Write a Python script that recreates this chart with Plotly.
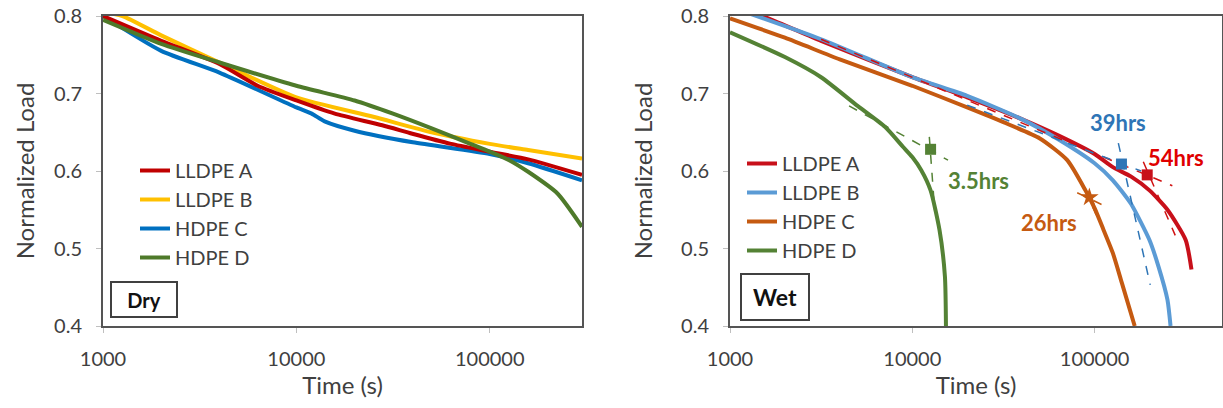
import math
import plotly.graph_objects as go

# ---------------- data ----------------
series_names = ["LLDPE A", "LLDPE B", "HDPE C", "HDPE D"]

# Dry panel
dry_A_t = [1000, 2000, 4000, 6300, 10000, 15800, 27800, 39800, 63000, 100000, 158000, 300000]
dry_A_v = [0.800, 0.768, 0.738, 0.710, 0.691, 0.674, 0.659, 0.648, 0.635, 0.625, 0.615, 0.595]
dry_B_t = [1000, 1260, 2000, 4000, 10000, 25000, 50000, 100000, 158000, 300000]
dry_B_v = [0.805, 0.800, 0.775, 0.740, 0.695, 0.670, 0.650, 0.635, 0.627, 0.616]
dry_C_t = [1000, 2000, 4000, 10000, 12000, 14000, 20000, 40000, 100000, 158000, 300000]
dry_C_v = [0.800, 0.755, 0.727, 0.682, 0.674, 0.664, 0.652, 0.637, 0.622, 0.610, 0.588]
dry_D_t = [1000, 2000, 4000, 10000, 20000, 31600, 50100, 79400, 100000, 126000, 158000, 224000, 300000]
dry_D_v = [0.795, 0.764, 0.740, 0.710, 0.691, 0.674, 0.655, 0.635, 0.625, 0.614, 0.599, 0.571, 0.528]

# Wet panel
wet_A_t = [1000, 1580, 3160, 10000, 20000, 39800, 63100, 100000, 126000, 158000, 200000, 251000, 316000, 340000]
wet_A_v = [0.815, 0.798, 0.768, 0.721, 0.695, 0.667, 0.646, 0.622, 0.605, 0.593, 0.575, 0.550, 0.511, 0.473]
wet_B_t = [1000, 3160, 10000, 20000, 39800, 63100, 100000, 126000, 158000, 200000, 224000, 251000, 261000]
wet_B_v = [0.812, 0.770, 0.721, 0.697, 0.667, 0.641, 0.610, 0.588, 0.558, 0.511, 0.477, 0.434, 0.400]
wet_C_t = [1000, 2000, 4000, 10000, 20000, 31600, 50100, 70800, 89100, 100000, 112000, 126000, 141000, 166000]
wet_C_v = [0.797, 0.772, 0.744, 0.710, 0.682, 0.663, 0.642, 0.614, 0.575, 0.552, 0.524, 0.494, 0.456, 0.400]
wet_D_t = [1000, 2000, 3160, 5010, 7080, 8910, 10000, 11200, 12600, 14100, 15100, 15300]
wet_D_v = [0.779, 0.747, 0.721, 0.684, 0.657, 0.631, 0.618, 0.601, 0.575, 0.524, 0.464, 0.400]

# failure points (wet) and tangent construction lines
fail_labels = ["54hrs", "39hrs", "26hrs", "3.5hrs"]
fail_t = [194400, 140400, 93600, 12600]
fail_v = [0.595, 0.609, 0.566, 0.628]
tan1_t = [[3160, 267000], [20000, 180000], [80300, 111000], [4500, 15700]]
tan1_v = [[0.770, 0.581], [0.685, 0.600], [0.572, 0.556], [0.684, 0.614]]
tan2_t = [[185000, 277000], [135000, 202000], [88700, 105000], [12400, 13300]]
tan2_v = [[0.612, 0.517], [0.636, 0.453], [0.575, 0.537], [0.644, 0.546]]
label_t = [281000, 135000, 56400, 23000]
label_v = [0.618, 0.663, 0.533, 0.588]

x_ticks = [1000, 10000, 100000]
y_ticks = [0.4, 0.5, 0.6, 0.7, 0.8]

# ---------------- style ----------------
dry_colors = ["#C00000", "#FFC000", "#0070C0", "#4E7A2A"]
wet_colors = ["#C8101A", "#5B9BD5", "#C55A11", "#548235"]
label_colors = ["#E00000", "#2E75B6", "#C55A11", "#548235"]
fail_symbols = ["square", "square", "star", "square"]
FONT = "Lato, Carlito, 'Open Sans', sans-serif"
TXT = "#404040"
W, H = 1223, 408

fig = go.Figure()

dry = [(dry_A_t, dry_A_v), (dry_B_t, dry_B_v), (dry_C_t, dry_C_v), (dry_D_t, dry_D_v)]
wet = [(wet_A_t, wet_A_v), (wet_B_t, wet_B_v), (wet_C_t, wet_C_v), (wet_D_t, wet_D_v)]

draw_order_dry = [2, 1, 0, 3]
for i in draw_order_dry:
    t, v = dry[i]
    fig.add_trace(go.Scatter(x=t, y=v, mode="lines", name=series_names[i],
                             line=dict(color=dry_colors[i], width=4, shape="spline", smoothing=0.6),
                             xaxis="x", yaxis="y", legend="legend", legendrank=i + 1))

for i in range(4):
    t, v = wet[i]
    fig.add_trace(go.Scatter(x=t, y=v, mode="lines", name=series_names[i],
                             line=dict(color=wet_colors[i], width=4, shape="spline", smoothing=0.6),
                             xaxis="x2", yaxis="y2", legend="legend2", legendrank=i + 1))

for i in range(4):
    for tt, vv in ((tan1_t[i], tan1_v[i]), (tan2_t[i], tan2_v[i])):
        fig.add_trace(go.Scatter(x=tt, y=vv, mode="lines", showlegend=False,
                                 line=dict(color=label_colors[i] if i != 0 else "#D01010", width=1.5, dash="dash"),
                                 xaxis="x2", yaxis="y2"))
    fig.add_trace(go.Scatter(x=[fail_t[i]], y=[fail_v[i]], mode="markers", showlegend=False,
                             marker=dict(color=wet_colors[i] if i != 1 else "#2E75B6",
                                         symbol=fail_symbols[i], size=11 if i != 2 else 14),
                             xaxis="x2", yaxis="y2"))
    fig.add_annotation(x=math.log10(label_t[i]), y=label_v[i], xref="x2", yref="y2",
                       text="<b>%s</b>" % fail_labels[i], showarrow=False,
                       font=dict(family=FONT, size=22, color=label_colors[i]))

def xaxis(dom):
    return dict(type="log", range=None, domain=dom, tickvals=x_ticks,
                ticktext=[str(v) for v in x_ticks], showgrid=False, zeroline=False,
                showline=True, linecolor="#555555", linewidth=2, mirror=True,
                ticks="outside", ticklen=5, tickcolor="#BFBFBF", tickwidth=1,
                ticklabelstandoff=9, automargin=False,
                tickfont=dict(family=FONT, size=20, color=TXT),
                title=dict(text="Time (s)", font=dict(family=FONT, size=24, color=TXT), standoff=6))

def yaxis(dom, anchor, standoff):
    return dict(range=[0.4, 0.8], domain=dom, anchor=anchor, tickvals=y_ticks,
                ticktext=["0.4", "0.5", "0.6", "0.7", "0.8"], showgrid=False, zeroline=False,
                showline=True, linecolor="#555555", linewidth=2, mirror=True,
                ticks="outside", ticklen=5, tickcolor="#BFBFBF", tickwidth=1,
                ticklabelstandoff=10, automargin=False,
                tickfont=dict(family=FONT, size=20, color=TXT),
                title=dict(text="Normalized Load", font=dict(family=FONT, size=24, color=TXT), standoff=standoff))

yd = [1 - 326 / H, 1 - 16 / H]
xa = xaxis([103 / W, 582 / W]); xa["range"] = [3, math.log10(300000)]; xa["anchor"] = "y"
xb = xaxis([730 / W, 1222 / W]); xb["range"] = [3, math.log10(500000)]; xb["anchor"] = "y2"

leg_common = dict(bgcolor="rgba(0,0,0,0)", borderwidth=0, font=dict(family=FONT, size=20, color=TXT),
                  xanchor="left", yanchor="top", tracegroupgap=0, itemwidth=30)

fig.update_layout(
    width=W, height=H, margin=dict(l=0, r=0, t=0, b=0, pad=0, autoexpand=False),
    paper_bgcolor="white", plot_bgcolor="white",
    xaxis=xa, yaxis=yaxis(yd, "x", 13), xaxis2=xb, yaxis2=yaxis(yd, "x2", 22),
    legend=dict(x=135 / W, y=1 - 151 / H, **leg_common),
    legend2=dict(x=742 / W, y=1 - 144 / H, **leg_common),
)

# panel condition boxes
fig.add_annotation(x=143.5 / W, y=1 - 299 / H, xref="paper", yref="paper", text="<b>Dry</b>",
                   xanchor="center", yanchor="middle",
                   showarrow=False, width=64, height=33, borderpad=0, bordercolor="#404040",
                   borderwidth=2, bgcolor="white", font=dict(family=FONT, size=20, color="#111111"))
fig.add_annotation(x=774.5 / W, y=1 - 296.5 / H, xref="paper", yref="paper", text="<b>Wet</b>",
                   xanchor="center", yanchor="middle",
                   showarrow=False, width=66, height=44, borderpad=0, bordercolor="#404040",
                   borderwidth=2, bgcolor="white", font=dict(family=FONT, size=23, color="#111111"))

fig.write_html("out.html")
